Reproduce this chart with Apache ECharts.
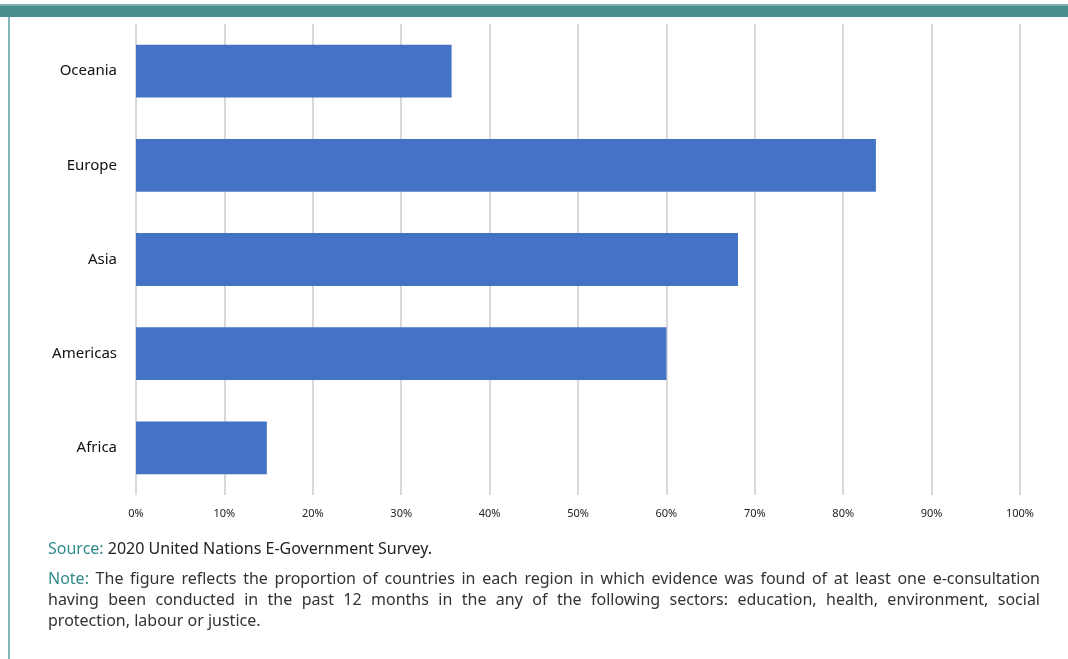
<!DOCTYPE html>
<html lang="en" style="height: 100%">
<head>
    <meta charset="UTF-8">
    <title>E-consultation by region</title>
    <script src="https://cdn.jsdelivr.net/npm/echarts@6/dist/echarts.min.js"></script>
</head>
<body style="height: 100%; margin: 0;">
    <div id="chart" style="width: 1068px; height: 659px"></div>
    <script>
        // regions, bottom to top (category y axis starts at the bottom)
        var regions = ['Africa', 'Americas', 'Asia', 'Europe', 'Oceania'];
        var shares = [14.8, 60.0, 68.1, 83.7, 35.7];
        var tickMax = 100;
        var tickStep = 10;

        var sourceText = '2020 United Nations E-Government Survey.';
        var noteLines = [
            'The figure reflects the proportion of countries in each region in which evidence was found of at least one e-consultation',
            'having been conducted in the past 12 months in the any of the following sectors: education, health, environment, social',
            'protection, labour or justice.'
        ];

        var myChart = echarts.init(document.getElementById('chart'));

        var font = '"Noto Sans", sans-serif';
        var teal = '#2f8a8a';
        var noteFont = '16px ' + font;
        var textLeft = 48, textRight = 1040;

        // measure words so the note can be justified like the original
        var ctx = document.createElement('canvas').getContext('2d');
        ctx.font = noteFont;

        // build word elements for one justified line
        function justifyLine(words, y, colors) {
            var total = 0;
            words.forEach(function (w) { total += ctx.measureText(w).width; });
            var gap = (textRight - textLeft - total) / (words.length - 1);
            var x = textLeft;
            return words.map(function (w, i) {
                var el = {
                    type: 'text',
                    x: x,
                    y: y,
                    style: {
                        text: w,
                        font: noteFont,
                        fill: colors[i] || '#333',
                        verticalAlign: 'middle'
                    }
                };
                x += ctx.measureText(w).width + gap;
                return el;
            });
        }

        var graphics = [
            // teal band at the top
            {
                type: 'rect',
                shape: { x: 0, y: 4, width: 1068, height: 13 },
                style: { fill: '#4b8e90' }
            },
            {
                type: 'rect',
                shape: { x: 0, y: 4, width: 1068, height: 2 },
                style: { fill: '#7fb0b0' }
            },
            // left border
            {
                type: 'rect',
                shape: { x: 8, y: 17, width: 2, height: 642 },
                style: { fill: '#84b8b8' }
            },
            {
                type: 'text',
                x: textLeft,
                y: 549,
                style: {
                    text: '{a|Source:} ' + sourceText,
                    font: noteFont,
                    fill: '#222',
                    verticalAlign: 'middle',
                    rich: { a: { fill: teal, fontSize: 16, fontFamily: font } }
                }
            },
            {
                type: 'text',
                x: textLeft,
                y: 621,
                style: { text: noteLines[2], font: noteFont, fill: '#333', verticalAlign: 'middle' }
            }
        ];
        graphics = graphics
            .concat(justifyLine(('Note: ' + noteLines[0]).split(' '), 579, [teal]))
            .concat(justifyLine(noteLines[1].split(' '), 600, []));

        var option = {
            animation: false,
            textStyle: { fontFamily: font },
            grid: {
                left: 136,
                right: 48,
                top: 24,
                bottom: 164
            },
            xAxis: {
                type: 'value',
                min: 0,
                max: tickMax,
                interval: tickStep,
                axisLine: { show: false },
                axisTick: { show: false },
                axisLabel: {
                    formatter: '{value}%',
                    fontSize: 11,
                    color: '#222',
                    margin: 13
                },
                splitLine: {
                    lineStyle: { color: '#d9d9d9', width: 2 }
                }
            },
            yAxis: {
                type: 'category',
                data: regions,
                axisLine: { show: false },
                axisTick: { show: false },
                axisLabel: {
                    fontSize: 15,
                    color: '#111',
                    margin: 19
                }
            },
            series: [{
                type: 'bar',
                data: shares,
                barWidth: '56%',
                itemStyle: { color: '#4472c4' }
            }],
            graphic: graphics
        };

        myChart.setOption(option);
    </script>
</body>
</html>
